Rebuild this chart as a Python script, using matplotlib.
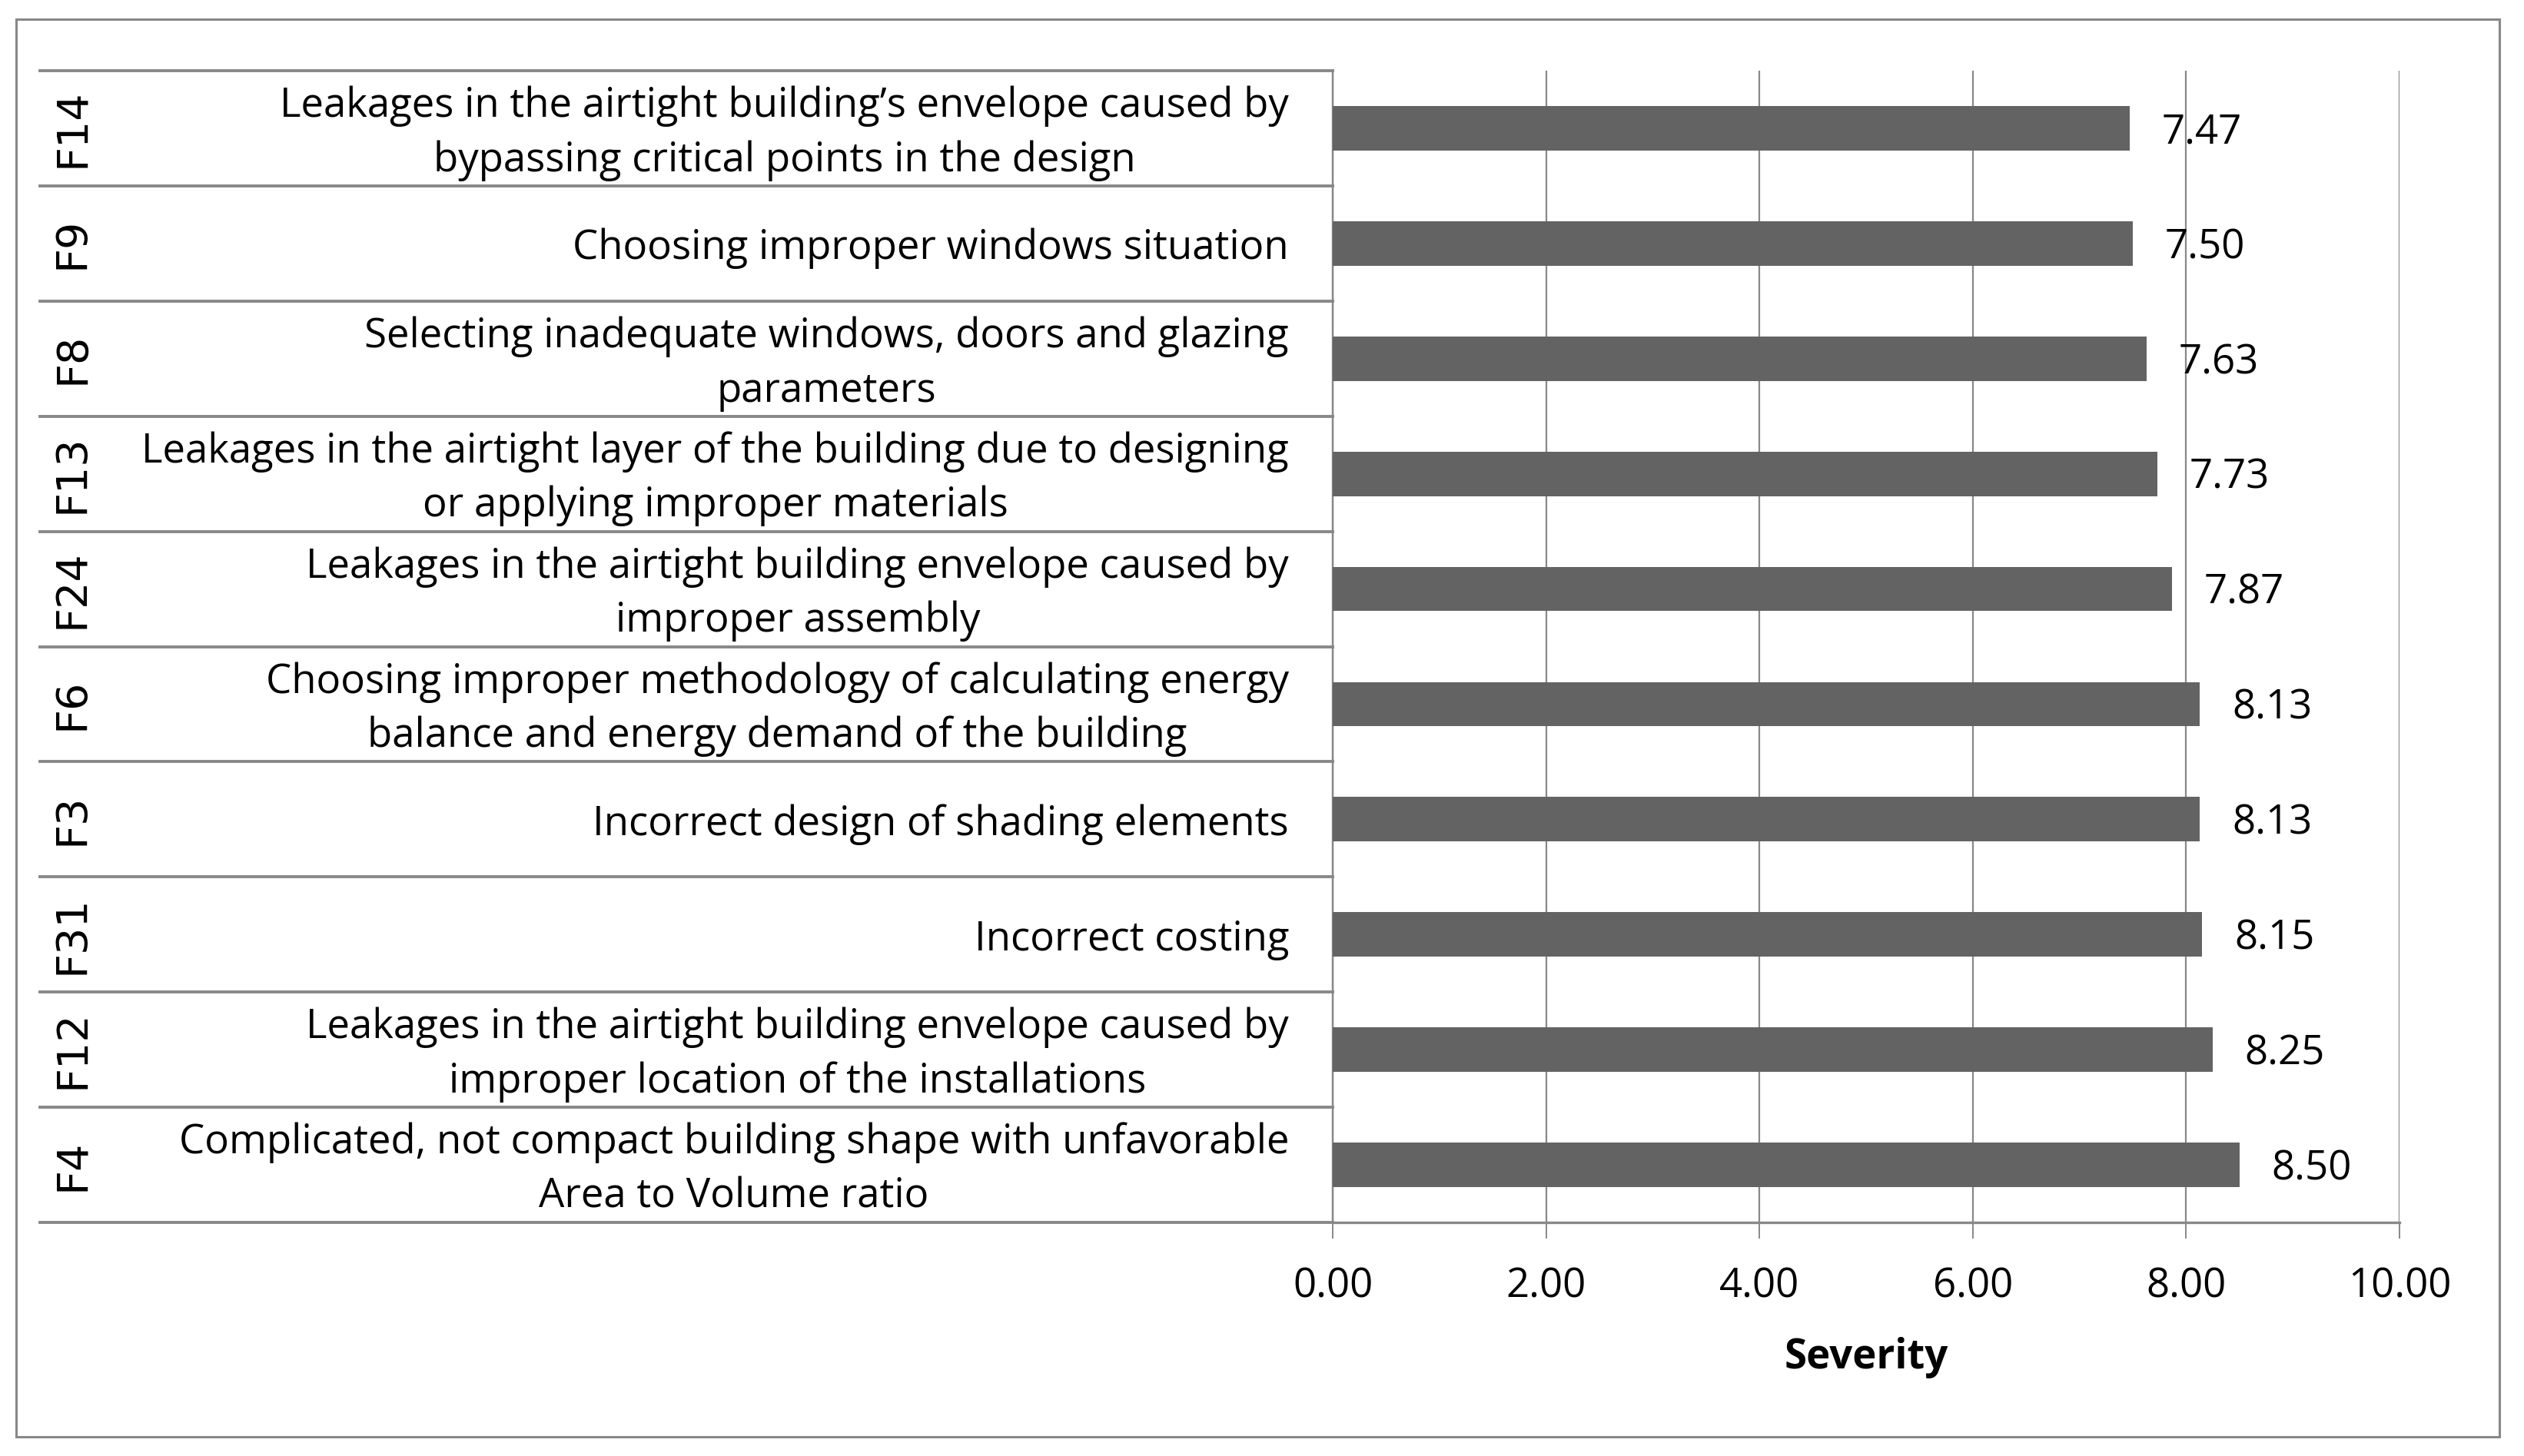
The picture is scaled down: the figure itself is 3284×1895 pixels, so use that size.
import matplotlib
matplotlib.use("Agg")
import matplotlib.pyplot as plt
from matplotlib.patches import Rectangle
from matplotlib.transforms import blended_transform_factory
import numpy as np

# data, bottom to top
codes = ["F4", "F12", "F31", "F3", "F6", "F24", "F13", "F8", "F9", "F14"]
labels = [
    "Complicated, not compact building shape with unfavorable\nArea to Volume ratio",
    "Leakages in the airtight building envelope caused by\nimproper location of the installations",
    "Incorrect costing",
    "Incorrect design of shading elements",
    "Choosing improper methodology of calculating energy\nbalance and energy demand of the building",
    "Leakages in the airtight building envelope caused by\nimproper assembly",
    "Leakages in the airtight layer of the building due to designing\nor applying improper materials",
    "Selecting inadequate windows, doors and glazing\nparameters",
    "Choosing improper windows situation",
    "Leakages in the airtight building\u2019s envelope caused by\nbypassing critical points in the design",
]
severity = [8.50, 8.25, 8.15, 8.13, 8.13, 7.87, 7.73, 7.63, 7.50, 7.47]
xticks = [0, 2, 4, 6, 8, 10]

txt_font = ["Open Sans", "DejaVu Sans"]
gray = "#888888"
bar_color = "#636363"

W, H = 3284, 1895
fig = plt.figure(figsize=(W / 100, H / 100), dpi=100)
ax = fig.add_axes([1734 / W, 1 - 1591 / H, (3122 - 1734) / W, (1591 - 92) / H])

# outer frame
fig.patches.append(Rectangle((21 / W, 1 - 1870 / H), (3252 - 21) / W, (1870 - 25) / H,
                             transform=fig.transFigure, fill=False, edgecolor=gray,
                             linewidth=2.2, zorder=0))

y = np.arange(len(codes))
ax.barh(y, severity, height=0.385, color=bar_color, zorder=3)
for yi, v in zip(y, severity):
    ax.annotate("%.2f" % v, (v, yi), xytext=(30, -4), textcoords="offset points",
                ha="left", va="center", fontsize=38, family=txt_font, zorder=4)

ax.set_xlim(0, 10)
ax.set_ylim(-0.5, len(codes) - 0.5)
ax.set_xticks(xticks)
ax.set_xticklabels(["%.2f" % t for t in xticks], fontsize=38, family=txt_font)
ax.tick_params(axis="x", length=15, width=1.4, color=gray, pad=26, direction="out")
ax.set_yticks([])
ax.grid(axis="x", color=gray, linewidth=1.6, zorder=0)
ax.set_axisbelow(True)
for s in ["top", "right"]:
    ax.spines[s].set_visible(False)
ax.spines["bottom"].set_color(gray)
ax.spines["bottom"].set_linewidth(2.4)
ax.spines["left"].set_color(gray)
ax.spines["left"].set_linewidth(1.6)
ax.set_xlabel("Severity", fontsize=38, fontweight="bold", family=txt_font, labelpad=28)

# category table on the left
tr = blended_transform_factory(ax.transAxes, ax.transData)
x_start = (52 - 1734) / (3122 - 1734)
x_text = (1677 - 1734) / (3122 - 1734)
x_code = (94 - 1734) / (3122 - 1734)
for i in range(len(codes) + 1):
    ax.plot([x_start, 0], [i - 0.5, i - 0.5], transform=tr, color=gray,
            linewidth=2.8, clip_on=False, zorder=2)
ax.plot([0, 0], [-0.5, len(codes) - 0.5], color=gray, linewidth=1.6, clip_on=False)
for yi, c, lab in zip(y, codes, labels):
    ax.text(x_text, yi - 0.045, lab, transform=tr, ha="right", va="center",
            multialignment="center", fontsize=38, family=txt_font, linespacing=1.42)
    ax.text(x_code, yi, c, transform=tr, ha="center", va="center", rotation=90,
            fontsize=40, family="DejaVu Sans")

fig.savefig("out.png", dpi=100)
